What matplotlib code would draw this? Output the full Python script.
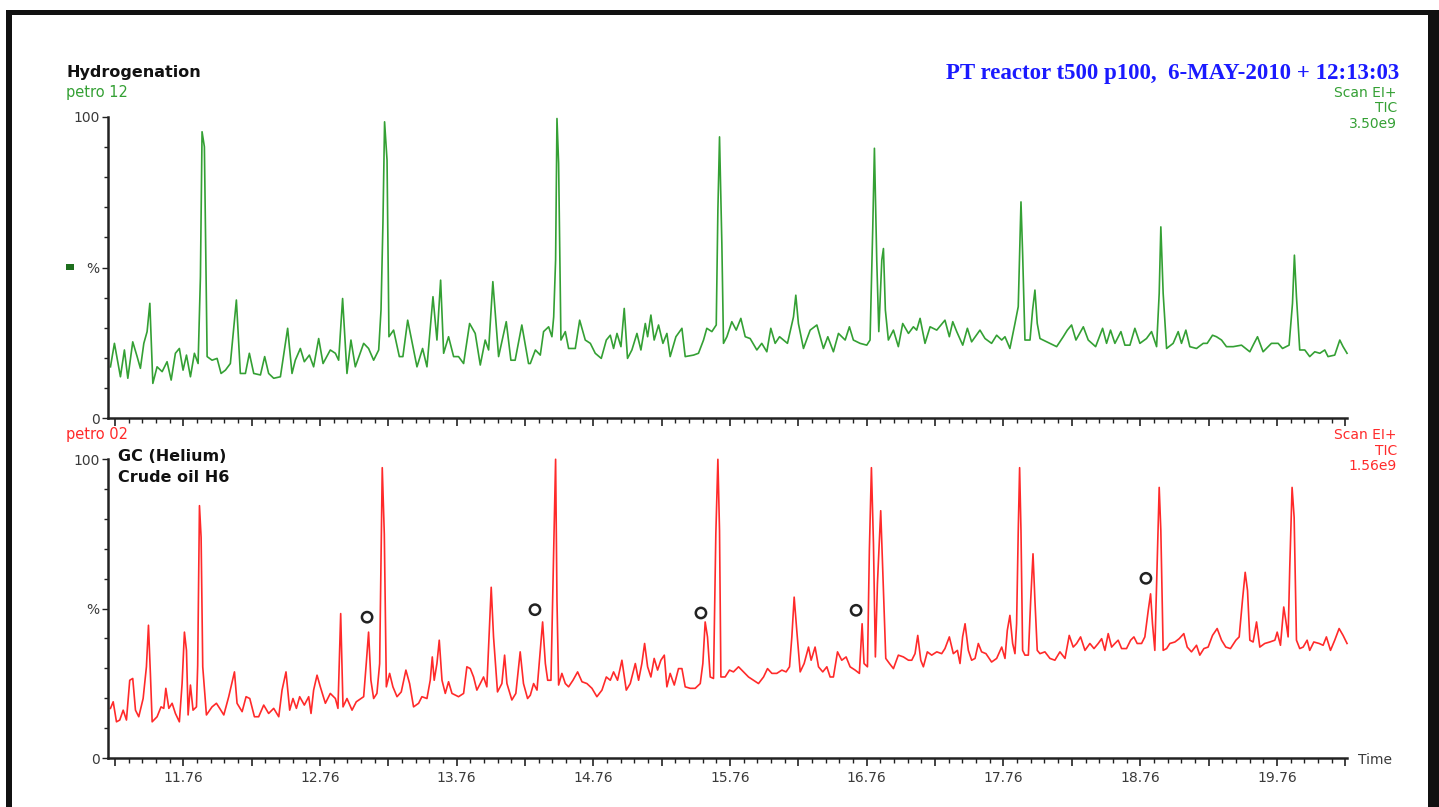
import matplotlib
matplotlib.use("Agg")
import matplotlib.pyplot as plt
import numpy as np
from matplotlib.patches import Rectangle

W, H = 1439, 807

# ---- data (time in min, intensity in %) ----
h2_time = [11.228, 11.257, 11.301, 11.330, 11.355, 11.391, 11.423, 11.447, 11.472, 11.496,
           11.516, 11.538, 11.569, 11.606, 11.642, 11.672, 11.703, 11.732, 11.759, 11.784,
           11.813, 11.842, 11.869, 11.886, 11.898, 11.915, 11.935, 11.971, 12.008, 12.037,
           12.069, 12.105, 12.149, 12.178, 12.215, 12.244, 12.276, 12.325, 12.356, 12.385,
           12.422, 12.471, 12.524, 12.556, 12.580, 12.617, 12.646, 12.683, 12.714, 12.751,
           12.783, 12.836, 12.873, 12.897, 12.926, 12.958, 12.987, 13.019, 13.080, 13.116,
           13.153, 13.190, 13.207, 13.221, 13.233, 13.251, 13.265, 13.299, 13.341, 13.367,
           13.402, 13.445, 13.470, 13.511, 13.543, 13.587, 13.616, 13.643, 13.665, 13.701,
           13.738, 13.774, 13.811, 13.855, 13.896, 13.933, 13.969, 13.994, 14.025, 14.067,
           14.123, 14.157, 14.188, 14.237, 14.286,
           14.299, 14.336, 14.372, 14.396, 14.433, 14.457, 14.470, 14.484, 14.494, 14.506,
           14.523, 14.555, 14.579, 14.628, 14.660, 14.701, 14.738, 14.774, 14.818, 14.855,
           14.884, 14.908, 14.933, 14.962, 14.986, 15.010, 15.042, 15.079, 15.108, 15.140,
           15.157, 15.181, 15.205, 15.237, 15.269, 15.298, 15.322, 15.364, 15.408, 15.432,
           15.493, 15.529, 15.566, 15.590, 15.627, 15.659, 15.671, 15.683, 15.700, 15.712,
           15.737, 15.773, 15.805, 15.839, 15.871, 15.907, 15.956, 15.992, 16.029, 16.058,
           16.090, 16.122, 16.151, 16.180, 16.224, 16.241, 16.260, 16.297, 16.346, 16.395,
           16.443, 16.475, 16.516, 16.553, 16.602, 16.633, 16.662, 16.711, 16.760, 16.784,
           16.804, 16.816, 16.833, 16.848, 16.870, 16.882, 16.896, 16.918, 16.955, 16.991,
           17.023, 17.065, 17.101, 17.125, 17.150, 17.186, 17.223, 17.272, 17.332, 17.364,
           17.389, 17.418, 17.462, 17.496, 17.527, 17.588,
           17.625, 17.673, 17.710, 17.747, 17.771, 17.807, 17.844, 17.868, 17.888, 17.900,
           17.917, 17.954, 17.973, 17.990, 18.007, 18.027, 18.076, 18.149, 18.197, 18.227,
           18.258, 18.290, 18.344, 18.380, 18.434, 18.485, 18.514, 18.543, 18.575, 18.619,
           18.648, 18.685, 18.721, 18.758, 18.806, 18.843, 18.880, 18.899, 18.911, 18.928,
           18.953, 19.001, 19.038, 19.062, 19.094, 19.123, 19.172, 19.221, 19.250, 19.289,
           19.318, 19.355, 19.391, 19.440, 19.501, 19.562, 19.586, 19.618, 19.659, 19.720,
           19.769, 19.801, 19.849, 19.874, 19.888, 19.903, 19.927, 19.964, 20.000, 20.037,
           20.074, 20.110, 20.134, 20.183, 20.220, 20.244, 20.273]
h2_int = [17.0, 24.8, 13.7, 22.6, 13.2, 25.3, 20.4, 16.5, 24.8, 28.7,
          38.1, 11.5, 17.0, 15.4, 18.7, 12.6, 21.5, 23.1, 15.9, 20.9,
          13.7, 21.5, 18.1, 46.9, 95.1, 90.1, 20.4, 19.2, 19.8, 14.8,
          15.9, 18.1, 39.2, 14.8, 14.8, 21.5, 14.8, 14.3, 20.4, 14.8,
          13.2, 13.7, 29.8, 14.8, 19.2, 23.1, 18.7, 20.9, 17.0, 26.4,
          18.1, 22.6, 21.5, 19.2, 39.7, 14.8, 25.9, 17.0, 24.8, 23.1,
          19.2, 22.6, 35.9, 64.7, 98.4, 85.7, 27.0, 29.2, 20.4, 20.4,
          32.5, 22.6, 17.0, 23.1, 17.0, 40.3, 25.9, 45.8, 21.5, 27.0,
          20.4, 20.4, 18.1, 31.4, 28.1, 17.6, 25.9, 22.6, 45.3, 20.4,
          32.0, 19.2, 19.2, 30.9, 18.1,
          18.1, 22.6, 20.9, 28.7, 30.3, 27.0, 33.6, 52.5, 99.5, 84.6,
          25.9, 28.7, 23.1, 23.1, 32.5, 25.9, 24.8, 21.5, 19.8, 25.9,
          27.5, 23.1, 28.1, 23.7, 36.4, 19.8, 22.6, 28.1, 22.6, 31.4,
          27.0, 34.2, 25.9, 30.9, 24.8, 28.1, 20.4, 27.0, 29.8, 20.4,
          20.9, 21.5, 25.9, 29.8, 28.7, 30.9, 69.1, 93.4, 58.0, 24.8,
          27.0, 32.0, 29.2, 33.1, 27.0, 26.4, 22.6, 24.8, 22.0, 29.8,
          24.8, 27.0, 25.9, 24.8, 33.6, 40.8, 31.4, 23.1, 29.2, 30.9,
          23.1, 27.0, 22.0, 28.1, 25.9, 30.3, 25.9, 24.8, 24.2, 25.9,
          63.5, 89.6, 52.5, 28.7, 52.5, 56.3, 35.9, 25.9, 29.2, 23.7,
          31.4, 28.1, 30.3, 29.2, 33.1, 24.8, 30.3, 29.2, 32.5, 27.0,
          32.0, 28.7, 24.2, 29.8, 25.3, 29.2,
          26.4, 24.8, 27.5, 25.9, 27.0, 23.1, 31.4, 37.0, 71.8, 54.7,
          25.9, 25.9, 35.9, 42.5, 31.4, 26.4, 25.3, 23.7, 27.0, 29.2,
          30.9, 25.9, 30.3, 25.9, 23.7, 29.8, 24.8, 29.2, 24.8, 28.7,
          24.2, 24.2, 29.8, 24.8, 26.4, 28.7, 23.7, 41.4, 63.5, 41.4,
          23.1, 24.8, 28.7, 24.8, 29.2, 23.7, 23.1, 24.8, 24.8, 27.5,
          27.0, 25.9, 23.7, 23.7, 24.2, 22.0, 24.2, 27.0, 22.0, 24.8,
          24.8, 23.1, 24.2, 38.1, 54.1, 40.3, 22.6, 22.6, 20.4, 22.0,
          21.5, 22.6, 20.4, 20.9, 25.9, 23.7, 21.5]

he_time = [11.228, 11.248, 11.272, 11.296, 11.321, 11.345, 11.369, 11.391, 11.411, 11.435,
           11.467, 11.491, 11.506, 11.520, 11.533, 11.569, 11.598, 11.618, 11.633, 11.655,
           11.679, 11.703, 11.732, 11.752, 11.769, 11.784, 11.796, 11.813, 11.832, 11.857,
           11.866, 11.879, 11.891, 11.903, 11.930, 11.971, 12.003, 12.027, 12.057, 12.093,
           12.135, 12.154, 12.191, 12.220, 12.247, 12.281, 12.312, 12.349, 12.385, 12.422,
           12.459, 12.483, 12.512, 12.539, 12.563, 12.588, 12.612, 12.646, 12.678, 12.695,
           12.714, 12.739, 12.763, 12.800, 12.836, 12.873, 12.892, 12.912, 12.929, 12.958,
           12.995, 13.026, 13.080, 13.099, 13.116, 13.133, 13.153, 13.177, 13.197, 13.216,
           13.231, 13.246, 13.270, 13.294, 13.324, 13.355, 13.389, 13.416, 13.445, 13.482,
           13.506, 13.543, 13.567, 13.582, 13.596, 13.616, 13.633, 13.653, 13.677, 13.701,
           13.726, 13.774, 13.811, 13.835, 13.860, 13.884, 13.908, 13.933, 13.957, 13.981,
           14.001, 14.013, 14.030, 14.059, 14.091, 14.111, 14.128, 14.164, 14.193, 14.225,
           14.249, 14.279,
           14.299, 14.323, 14.348, 14.372, 14.389, 14.409, 14.426, 14.450, 14.462, 14.474,
           14.484, 14.494, 14.506, 14.530, 14.555, 14.579, 14.611, 14.645, 14.677, 14.713,
           14.750, 14.786, 14.823, 14.855, 14.884, 14.908, 14.937, 14.969, 15.001, 15.030,
           15.067, 15.091, 15.115, 15.135, 15.157, 15.181, 15.205, 15.230, 15.254, 15.279,
           15.298, 15.322, 15.352, 15.383, 15.408, 15.432, 15.469, 15.505, 15.542, 15.561,
           15.578, 15.595, 15.615, 15.639, 15.656, 15.671, 15.683, 15.693, 15.724, 15.756,
           15.785, 15.822, 15.858, 15.895, 15.932, 15.968, 16.005, 16.034, 16.066, 16.102,
           16.139, 16.170, 16.195, 16.212, 16.229, 16.248, 16.273, 16.302, 16.334, 16.353,
           16.382, 16.407, 16.438, 16.468, 16.492, 16.516, 16.546, 16.577, 16.609, 16.638,
           16.675, 16.706, 16.726, 16.740, 16.765, 16.779, 16.794, 16.809, 16.823, 16.838,
           16.862, 16.882, 16.899, 16.926, 16.955, 16.991, 17.028, 17.065, 17.089, 17.113,
           17.133, 17.155, 17.174, 17.203, 17.235, 17.272, 17.308, 17.332, 17.364, 17.393,
           17.423,
           17.442, 17.461, 17.479, 17.503, 17.527, 17.552, 17.576, 17.600, 17.632, 17.673,
           17.710, 17.747, 17.771, 17.788, 17.807, 17.827, 17.844, 17.856, 17.868, 17.878,
           17.888, 17.900, 17.917, 17.942, 17.959, 17.976, 17.990, 18.007, 18.027, 18.063,
           18.100, 18.136, 18.173, 18.210, 18.241, 18.270, 18.295, 18.324, 18.356, 18.392,
           18.422, 18.453, 18.478, 18.502, 18.526, 18.551, 18.575, 18.599, 18.624, 18.660,
           18.690, 18.714, 18.738, 18.770, 18.794, 18.819, 18.836, 18.850, 18.867, 18.880,
           18.899, 18.911, 18.928, 18.953, 18.977, 19.014, 19.045, 19.079, 19.104, 19.135,
           19.172, 19.196, 19.226, 19.257, 19.289, 19.323, 19.355, 19.386, 19.420, 19.460,
           19.484, 19.508, 19.528, 19.545, 19.562, 19.586, 19.611, 19.635, 19.671, 19.708,
           19.745, 19.762, 19.786, 19.810, 19.825, 19.842, 19.854, 19.871, 19.886, 19.903,
           19.927, 19.952, 19.981, 20.000, 20.030, 20.069, 20.098, 20.122, 20.152, 20.183,
           20.215, 20.244, 20.273]
he_int = [16.6, 18.8, 12.1, 12.7, 16.0, 12.7, 26.0, 26.6, 16.0, 13.8,
          19.9, 30.5, 44.4, 28.3, 12.1, 13.8, 17.1, 16.6, 23.3, 16.6,
          18.3, 14.9, 12.1, 24.9, 42.1, 36.0, 14.4, 24.4, 16.0, 17.1,
          31.0, 84.4, 73.8, 30.5, 14.4, 17.1, 18.3, 16.6, 14.4, 20.5,
          28.8, 18.3, 15.5, 20.5, 19.9, 13.8, 13.8, 17.7, 14.9, 16.6,
          13.8, 22.7, 28.8, 16.0, 19.9, 16.6, 20.5, 17.7, 20.5, 14.9,
          22.7, 27.7, 23.8, 18.3, 21.6, 19.9, 16.6, 48.3, 17.1, 19.9,
          16.0, 18.8, 20.5, 31.6, 42.1, 26.0, 19.9, 21.6, 31.6, 97.1,
          74.9, 23.8, 28.3, 23.8, 20.5, 22.1, 29.4, 24.9, 17.1, 18.3,
          20.5, 19.9, 26.0, 33.8, 26.0, 31.6, 39.4, 26.0, 21.6, 25.5,
          21.6, 20.5, 21.6, 30.5, 29.9, 27.1, 22.7, 24.9, 27.1, 23.8,
          44.9, 57.1, 40.5, 22.1, 24.9, 34.4, 24.9, 19.4, 21.6, 35.5,
          24.9, 19.9,
          21.0, 24.9, 22.7, 36.0, 45.5, 31.6, 26.0, 26.0, 52.7, 78.3,
          99.9, 52.7, 24.4, 28.3, 24.9, 23.8, 26.0, 28.8, 25.5, 24.9,
          23.3, 20.5, 22.7, 27.1, 26.0, 28.8, 26.0, 32.7, 22.7, 24.9,
          31.6, 26.0, 31.6, 38.3, 30.5, 27.1, 33.3, 29.4, 32.7, 34.4,
          23.8, 28.3, 24.4, 29.9, 29.9, 23.8, 23.3, 23.3, 24.9, 31.6,
          45.5, 40.5, 27.1, 26.6, 74.9, 99.9, 76.0, 27.1, 27.1, 29.4,
          28.8, 30.5, 28.8, 27.1, 26.0, 24.9, 27.1, 29.9, 28.3, 28.3,
          29.4, 28.8, 30.5, 40.5, 53.8, 42.7, 28.8, 31.6, 37.1, 32.7,
          37.1, 30.5, 28.8, 30.5, 27.1, 27.1, 35.5, 32.7, 33.8, 30.5,
          29.4, 28.3, 44.9, 31.6, 30.5, 69.4, 97.1, 71.6, 33.8, 58.3,
          82.7, 56.0, 33.3, 31.6, 29.9, 34.4, 33.8, 32.7, 32.7, 34.9,
          41.0, 32.7, 30.5, 35.5, 34.4, 35.5, 34.9, 36.6, 40.5, 34.9,
          36.0,
          31.6, 40.5, 44.9, 36.0, 32.7, 33.3, 38.3, 35.5, 34.9, 32.1,
          33.3, 37.1, 33.3, 42.7, 47.7, 38.3, 34.9, 44.9, 76.0, 97.1,
          76.0, 36.0, 34.4, 34.4, 52.7, 68.3, 52.7, 36.0, 34.9, 35.5,
          33.3, 32.7, 35.5, 33.3, 41.0, 37.1, 38.3, 40.5, 36.0, 38.3,
          36.6, 38.3, 39.9, 36.0, 41.6, 37.1, 38.3, 39.4, 36.6, 36.6,
          39.4, 40.5, 38.3, 38.3, 40.5, 49.4, 54.9, 44.9, 36.0, 58.3,
          90.5, 76.0, 36.0, 36.6, 38.3, 38.8, 39.9, 41.6, 37.1, 35.5,
          37.7, 34.4, 36.6, 37.1, 41.0, 43.3, 39.4, 37.1, 36.6, 39.4,
          40.5, 52.7, 62.1, 56.0, 39.4, 38.8, 45.5, 37.1, 38.3, 38.8,
          39.4, 42.1, 37.7, 50.5, 46.0, 40.5, 63.8, 90.5, 80.5, 39.4,
          36.6, 37.1, 39.4, 36.0, 38.8, 38.3, 37.7, 40.5, 36.0, 39.4,
          43.3, 41.0, 38.3]

# marked peaks (open circles) in the helium run
mark_time = [13.105, 14.333, 15.547, 16.682, 18.802]
mark_int = [47.1, 49.6, 48.5, 49.4, 60.1]

tick_labels = ["11.76", "12.76", "13.76", "14.76", "15.76", "16.76", "17.76", "18.76", "19.76"]

GREEN = "#34a034"
RED = "#ff2a2a"
AXC = "#222222"
TXT = "#3a3a3a"
X0, X1 = 11.21, 20.28
SANS = "DejaVu Sans"

fig = plt.figure(figsize=(W / 100, H / 100), dpi=100)
fig.patch.set_facecolor("white")


def fx(px):
    return px / W


def fy(py):
    return 1 - py / H


def setup(ax, show_labels):
    ax.set_xlim(X0, X1)
    ax.set_ylim(0, 100)
    for s in ["top", "right"]:
        ax.spines[s].set_visible(False)
    for s in ["left", "bottom"]:
        ax.spines[s].set_linewidth(1.8)
        ax.spines[s].set_color(AXC)
    ax.spines["bottom"].set_bounds(X0, 20.275)
    major = np.round(np.arange(11.26, 20.27, 0.5), 2)
    minor = np.round(np.arange(11.26, 20.27, 0.1), 2)
    ax.set_xticks(major)
    ax.set_xticks(minor, minor=True)
    if show_labels:
        labs = []
        for m in major:
            k = m - 11.76
            labs.append(tick_labels[int(round(k))] if abs(k - round(k)) < 1e-6 else "")
        ax.set_xticklabels(labs)
    else:
        ax.set_xticklabels([])
    ax.set_yticks([0, 50, 100])
    ax.set_yticklabels(["0", "%", "100"])
    ax.set_yticks(np.arange(0, 101, 10), minor=True)
    ax.tick_params(axis="x", which="major", length=6, width=1.2, color=AXC,
                   labelsize=10, labelcolor=TXT, pad=3)
    ax.tick_params(axis="x", which="minor", length=3.5, width=1.0, color=AXC)
    ax.tick_params(axis="y", which="major", length=4, width=1.0, color=AXC,
                   labelsize=10, labelcolor=TXT, pad=2)
    ax.tick_params(axis="y", which="minor", length=3, width=1.0, color=AXC)
    for lab in ax.get_xticklabels() + ax.get_yticklabels():
        lab.set_fontfamily(SANS)
    ax.patch.set_alpha(0)


# top panel: hydrogenation
ax1 = fig.add_axes([fx(108), fy(418), fx(1348) - fx(108), fy(117) - fy(418)])
setup(ax1, False)
ax1.plot(h2_time, h2_int, color=GREEN, lw=1.2, clip_on=False)

# bottom panel: GC helium
ax2 = fig.add_axes([fx(108), fy(758), fx(1348) - fx(108), fy(459) - fy(758)])
setup(ax2, True)
ax2.plot(he_time, he_int, color=RED, lw=1.2, clip_on=False)
ax2.scatter(mark_time, mark_int, s=55, facecolors="none", edgecolors="#222222",
            linewidths=1.8, zorder=5, clip_on=False)

# texts
fig.text(fx(66), fy(72), "Hydrogenation", fontsize=11.5, fontweight="bold",
         family=SANS, color="#111111", va="center", ha="left")
fig.text(fx(66), fy(93), "petro 12", fontsize=10.5, family=SANS, color=GREEN,
         va="center", ha="left")
fig.text(fx(1399), fy(73), "PT reactor t500 p100,  6-MAY-2010 + 12:13:03",
         fontsize=16.5, fontweight="bold", family="Liberation Serif", color="#1a1aff",
         va="center", ha="right")
for i, s in enumerate(["Scan EI+", "TIC", "3.50e9"]):
    fig.text(fx(1397), fy(93 + 15.5 * i), s, fontsize=10, family=SANS, color=GREEN,
             va="center", ha="right")
fig.text(fx(66), fy(435), "petro 02", fontsize=10.5, family=SANS, color=RED,
         va="center", ha="left")
for i, s in enumerate(["Scan EI+", "TIC", "1.56e9"]):
    fig.text(fx(1397), fy(435 + 15.5 * i), s, fontsize=10, family=SANS, color=RED,
             va="center", ha="right")
fig.text(fx(118), fy(456), "GC (Helium)", fontsize=11.5, fontweight="bold",
         family=SANS, color="#111111", va="center", ha="left")
fig.text(fx(118), fy(477), "Crude oil H6", fontsize=11.5, fontweight="bold",
         family=SANS, color="#111111", va="center", ha="left")
fig.text(fx(1358), fy(760), "Time", fontsize=10, family=SANS, color=TXT,
         va="center", ha="left")

# small legend square by the top % label
fig.patches.append(Rectangle((fx(66), fy(270)), 8 / W, 6 / H, transform=fig.transFigure,
                             facecolor="#1d6e1d", edgecolor="none"))

# black frame of the screenshot
fig.patches.append(Rectangle((fx(6), fy(15)), (W - 6) / W, 5 / H, transform=fig.transFigure,
                             facecolor="#111111", edgecolor="none"))
fig.patches.append(Rectangle((fx(6), 0), 6 / W, fy(10), transform=fig.transFigure,
                             facecolor="#111111", edgecolor="none"))
fig.patches.append(Rectangle((fx(1428), 0), 11 / W, fy(10), transform=fig.transFigure,
                             facecolor="#111111", edgecolor="none"))

fig.savefig("out.png", dpi=100, facecolor="white")
